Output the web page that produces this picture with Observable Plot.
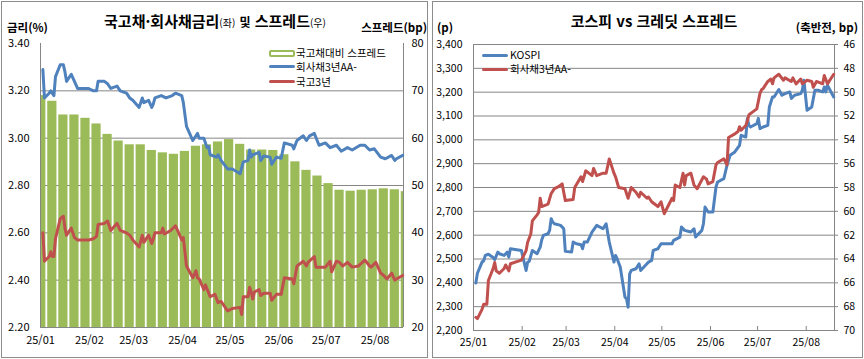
<!DOCTYPE html>
<html lang="ko"><head><meta charset="utf-8">
<script src="https://cdn.jsdelivr.net/npm/d3@7"></script>
<script src="https://cdn.jsdelivr.net/npm/@observablehq/plot@0.6"></script>
<style>
html,body{margin:0;padding:0;background:#fff;}
#page{position:relative;width:864px;height:359px;overflow:hidden;font-family:"Noto Sans CJK KR","Noto Sans",sans-serif;color:#000;}
.box{position:absolute;border:1px solid #8c8c8c;box-sizing:border-box;}
.layer{position:absolute;top:0;}
.layer svg{display:block;}
.t{position:absolute;white-space:nowrap;line-height:1;}
.sw{position:absolute;}
</style></head><body><div id="page">
<div class="box" style="left:1px;top:1px;width:427px;height:357px"></div>
<div class="box" style="left:432px;top:1px;width:431px;height:357px"></div>
<div id="L1" class="layer" style="left:0;width:430px"></div>
<div id="L2" class="layer" style="left:0;width:430px"></div>
<div id="R1" class="layer" style="left:430px;width:434px"></div>
<div id="R2" class="layer" style="left:430px;width:434px"></div>

<div class="t" style="left:215px;top:12.5px;transform:translateX(-50%);font-size:15px;font-weight:bold">국고채·회사채금리<span style="font-size:10px;font-weight:normal">(좌)</span> <span style="font-size:12px">및</span> 스프레드<span style="font-size:10px;font-weight:normal">(우)</span></div>
<div class="t" style="left:7px;top:22px;font-size:11.5px;font-weight:bold">금리(%)</div>
<div class="t" style="right:437px;top:22px;font-size:11.5px;font-weight:bold">스프레드(bp)</div>

<div class="sw" style="left:269px;top:50px;width:26px;height:7px;border:2px solid #9BBB59;box-sizing:border-box;border-radius:2px;background:#fff"></div>
<div class="t" style="left:296px;top:47.5px;font-size:10.5px">국고채대비 스프레드</div>
<div class="sw" style="left:269px;top:65px;width:26px;height:3px;background:#4F81BD;border-radius:1.5px"></div>
<div class="t" style="left:296px;top:62px;font-size:10.5px">회사채3년AA-</div>
<div class="sw" style="left:269px;top:80px;width:26px;height:3px;background:#C0504D;border-radius:1.5px"></div>
<div class="t" style="left:296px;top:77px;font-size:10.5px">국고3년</div>

<div class="t" style="left:654px;top:12.5px;transform:translateX(-50%);font-size:15px;font-weight:bold">코스피 vs 크레딧 스프레드</div>
<div class="t" style="left:437px;top:22px;font-size:11.5px;font-weight:bold">(p)</div>
<div class="t" style="right:6px;top:22px;font-size:11.5px;font-weight:bold">(축반전, bp)</div>

<div class="sw" style="left:482px;top:53.5px;width:26px;height:3px;background:#4F81BD;border-radius:1.5px"></div>
<div class="t" style="left:510px;top:50px;font-size:10.5px">KOSPI</div>
<div class="sw" style="left:482px;top:67.5px;width:26px;height:3px;background:#C0504D;border-radius:1.5px"></div>
<div class="t" style="left:510px;top:64px;font-size:10.5px">회사채3년AA-</div>
</div>
<script>
// ---------- data ----------
const monthLabels = ["25/01","25/02","25/03","25/04","25/05","25/06","25/07","25/08"];
const rateTicks = [2.2,2.4,2.6,2.8,3.0,3.2,3.4];
const spreadTicks = [20,30,40,50,60,70,80];
const kospiTicks = [2200,2300,2400,2500,2600,2700,2800,2900,3000,3100,3200,3300,3400];
const creditTicks = [46,48,50,52,54,56,58,60,62,64,66,68,70];

const corpDates = ["01-02","01-03","01-06","01-07","01-09","01-10","01-13","01-15","01-16","01-17","01-20","01-22","01-24","01-31","02-03","02-05","02-06","02-10","02-12","02-14","02-18","02-20","02-24","02-26","02-28","03-04","03-06","03-07","03-10","03-12","03-13","03-14","03-18","03-21","03-25","03-27","03-31","04-01","04-03","04-07","04-09","04-10","04-11","04-14","04-16","04-17","04-18","04-22","04-23","04-25","04-29","05-02","05-07","05-08","05-09","05-12","05-13","05-14","05-15","05-19","05-20","05-22","05-26","05-27","05-30","06-02","06-04","06-09","06-10","06-12","06-16","06-18","06-20","06-23","06-26","06-30","07-03","07-07","07-10","07-14","07-17","07-22","07-25","07-28","07-31","08-04","08-07","08-11","08-13","08-14","08-18"];
const corpYield = [3.29,3.17,3.19,3.20,3.18,3.26,3.31,3.31,3.28,3.24,3.27,3.24,3.21,3.21,3.20,3.20,3.24,3.24,3.23,3.21,3.22,3.20,3.19,3.17,3.16,3.13,3.17,3.15,3.16,3.13,3.145,3.17,3.18,3.17,3.18,3.19,3.18,3.15,3.05,2.99,3.01,3.02,3.00,3.00,2.96,2.965,2.93,2.92,2.93,2.905,2.87,2.87,2.85,2.875,2.90,2.905,2.95,2.92,2.93,2.94,2.905,2.925,2.92,2.89,2.92,2.915,2.98,2.97,2.955,2.99,3.01,2.99,3.01,3.02,2.97,2.98,2.96,2.97,2.945,2.96,2.95,2.97,2.97,2.95,2.955,2.92,2.913,2.927,2.906,2.913,2.927];

const govtDates = ["01-02","01-03","01-06","01-07","01-08","01-09","01-10","01-13","01-15","01-16","01-17","01-20","01-22","01-24","01-31","02-03","02-05","02-06","02-10","02-12","02-14","02-18","02-20","02-24","02-26","02-28","03-04","03-06","03-07","03-10","03-12","03-13","03-14","03-18","03-19","03-20","03-24","03-27","03-31","04-01","04-03","04-07","04-09","04-10","04-11","04-14","04-15","04-18","04-21","04-23","04-25","04-29","05-02","05-07","05-08","05-09","05-12","05-13","05-14","05-15","05-16","05-19","05-20","05-22","05-26","05-27","05-30","06-02","06-04","06-09","06-10","06-12","06-16","06-18","06-19","06-23","06-24","06-30","07-03","07-04","07-07","07-09","07-11","07-14","07-17","07-21","07-25","07-28","07-29","08-01","08-04","08-06","08-08","08-11","08-13","08-14","08-18"];
const govtYield = [2.60,2.48,2.50,2.52,2.50,2.50,2.575,2.66,2.67,2.62,2.59,2.62,2.58,2.57,2.57,2.575,2.585,2.635,2.64,2.65,2.61,2.64,2.61,2.60,2.59,2.57,2.54,2.59,2.56,2.59,2.555,2.575,2.60,2.60,2.62,2.595,2.61,2.63,2.57,2.58,2.46,2.41,2.44,2.41,2.405,2.36,2.38,2.33,2.34,2.305,2.31,2.27,2.28,2.285,2.255,2.33,2.33,2.37,2.35,2.32,2.35,2.36,2.335,2.345,2.345,2.315,2.34,2.34,2.41,2.405,2.385,2.46,2.48,2.46,2.475,2.50,2.455,2.455,2.48,2.435,2.48,2.475,2.46,2.475,2.455,2.46,2.485,2.46,2.455,2.475,2.43,2.42,2.405,2.43,2.40,2.405,2.42];

const spreadWeeks = ["01-02","01-06","01-13","01-20","01-27","02-03","02-10","02-17","02-24","03-03","03-10","03-17","03-24","03-31","04-07","04-14","04-21","04-28","05-05","05-12","05-19","05-26","06-02","06-09","06-16","06-23","06-30","07-07","07-14","07-21","07-28","08-04","08-11","08-18"];
const spreadWeekly = [69.0,67.8,64.9,64.9,64.2,63.0,60.8,59.4,58.6,58.6,57.4,56.9,56.6,57.2,58.3,58.6,59.2,59.7,58.7,57.5,57.5,57.4,56.5,55.0,53.2,52.0,50.4,49.0,48.8,49.0,49.1,49.3,49.1,48.7];

const kospiDates = ["01-02","01-03","01-06","01-07","01-08","01-10","01-13","01-14","01-16","01-17","01-20","01-22","01-23","01-24","01-31","02-03","02-04","02-05","02-07","02-10","02-11","02-12","02-13","02-14","02-17","02-18","02-19","02-20","02-21","02-25","02-27","02-28","03-04","03-05","03-07","03-10","03-11","03-12","03-14","03-17","03-20","03-24","03-26","03-28","03-31","04-01","04-02","04-04","04-07","04-08","04-09","04-10","04-11","04-14","04-16","04-17","04-21","04-22","04-24","04-25","04-28","04-30","05-07","05-08","05-12","05-13","05-15","05-19","05-21","05-22","05-26","05-27","05-28","05-30","06-02","06-04","06-05","06-09","06-10","06-11","06-13","06-16","06-19","06-20","06-23","06-24","06-25","06-26","06-30","07-01","07-02","07-04","07-07","07-08","07-10","07-11","07-14","07-16","07-18","07-21","07-22","07-24","07-28","07-29","07-30","08-01","08-04","08-06","08-08","08-11","08-12","08-13","08-14","08-18"];
const kospiValues = [2399,2440,2488,2492,2515,2520,2506,2497,2529,2522,2515,2529,2508,2543,2536,2452,2487,2490,2536,2522,2536,2550,2581,2599,2606,2620,2669,2655,2648,2641,2627,2532,2529,2571,2564,2560,2543,2571,2571,2613,2641,2627,2648,2571,2487,2515,2501,2466,2340,2333,2298,2438,2452,2459,2480,2452,2480,2487,2494,2536,2543,2564,2564,2578,2592,2634,2620,2613,2627,2592,2620,2648,2718,2697,2697,2802,2823,2837,2865,2893,2935,2949,2977,3019,3012,3090,3061,3054,3068,3090,3047,3054,3061,3138,3180,3180,3211,3187,3194,3201,3174,3187,3194,3208,3250,3124,3138,3208,3208,3201,3222,3201,3229,3180];

const creditDates = ["01-02","01-03","01-06","01-07","01-09","01-10","01-13","01-14","01-15","01-17","01-20","01-21","01-23","01-24","01-31","02-03","02-04","02-06","02-07","02-10","02-11","02-12","02-13","02-17","02-19","02-20","02-21","02-24","02-26","02-28","03-05","03-06","03-10","03-11","03-13","03-17","03-18","03-20","03-24","03-26","03-28","03-31","04-01","04-03","04-07","04-09","04-11","04-14","04-16","04-17","04-21","04-22","04-24","04-28","04-30","05-02","05-07","05-08","05-09","05-12","05-14","05-15","05-16","05-19","05-21","05-23","05-27","05-29","05-30","06-02","06-04","06-05","06-09","06-11","06-12","06-16","06-18","06-19","06-20","06-23","06-24","06-25","06-27","06-30","07-02","07-03","07-04","07-07","07-09","07-10","07-11","07-14","07-17","07-18","07-22","07-23","07-25","07-28","07-29","08-01","08-04","08-05","08-07","08-11","08-12","08-14","08-18"];
const creditSpread = [68.9,69.0,68.2,67.8,67.8,65.8,64.8,64.3,65.0,65.2,64.8,64.5,65.0,64.4,64.1,63.3,62.6,61.9,60.8,60.3,60.1,58.9,59.6,59.4,58.5,58.3,58.1,57.9,57.7,59.1,59.0,58.0,57.1,57.5,56.6,57.0,56.4,57.0,56.8,56.8,55.6,56.8,57.1,58.0,58.1,58.9,58.0,58.4,58.8,58.4,58.9,58.8,59.2,59.6,59.2,60.2,58.9,59.1,57.8,58.0,56.8,57.8,57.0,56.8,57.8,58.1,57.1,57.3,57.7,57.5,56.1,55.9,55.6,56.1,53.8,53.5,53.3,52.9,53.2,52.8,52.4,51.9,51.7,51.4,50.1,49.8,49.7,49.1,48.9,49.3,48.8,48.5,49.0,48.8,49.1,48.8,49.3,48.9,49.3,49.0,49.1,49.6,49.1,49.3,48.6,49.3,48.5];

// ---------- helpers ----------
const D = (s, h = 0) => new Date(Date.UTC(2025, +s.slice(0, 2) - 1, +s.slice(3, 5), h));
const pts = (ds, vs) => ds.map((s, i) => ({date: D(s, 12), value: vs[i]}));
const monthDates = monthLabels.map(l => new Date(Date.UTC(2000 + +l.slice(0, 2), +l.slice(3, 5) - 1, 1)));
const monthFmt = d => monthLabels[monthDates.findIndex(m => +m === +d)];
const xDom = [new Date(Date.UTC(2025, 0, 1)), new Date(Date.UTC(2025, 7, 19))];
const GRID = "#868686", GREEN = "#9BBB59", BLUE = "#4F81BD", RED = "#C0504D";
const FONT = '"Noto Sans CJK KR","Noto Sans",sans-serif';
const style = (fs, bg) => ({fontFamily: FONT, fontSize: fs, color: "#000", background: bg, overflow: "visible"});

const bars = spreadWeeks.map((w, i) => {
  const s = D(w);
  const e = new Date(s.getTime());
  e.setUTCDate(e.getUTCDate() + (6 - s.getUTCDay()));
  return {x1: s, x2: e > xDom[1] ? xDom[1] : e, v: spreadWeekly[i]};
});

// ---------- left chart ----------
const LM = {width: 430, height: 359, marginLeft: 40, marginRight: 27, marginTop: 43, marginBottom: 32};
const left1 = Plot.plot({
  ...LM, style: style("11px", "transparent"),
  x: {type: "utc", domain: xDom, axis: null},
  y: {type: "linear", domain: [20, 80]},
  marks: [
    Plot.ruleY(spreadTicks.filter(t => t > 20 && t < 80), {stroke: GRID, strokeWidth: 1}),
    Plot.rect(bars, {x1: "x1", x2: "x2", y1: () => 20, y2: "v", fill: GREEN, insetLeft: -0.65, insetRight: -0.65}),
    Plot.axisY({anchor: "right", ticks: spreadTicks, tickSize: 0, tickPadding: 8, label: null, tickFormat: d => String(d)})
  ]
});
document.getElementById("L1").append(left1);

const left2 = Plot.plot({
  ...LM, style: style("11px", "transparent"),
  x: {type: "utc", domain: xDom},
  y: {type: "linear", domain: [2.2, 3.4]},
  marks: [
    Plot.ruleX(xDom, {stroke: GRID}),
    Plot.ruleY([rateTicks[0]], {stroke: GRID}),
    Plot.line(pts(corpDates, corpYield), {x: "date", y: "value", stroke: BLUE, strokeWidth: 3, strokeLinejoin: "round", strokeLinecap: "round"}),
    Plot.line(pts(govtDates, govtYield), {x: "date", y: "value", stroke: RED, strokeWidth: 3, strokeLinejoin: "round", strokeLinecap: "round"}),
    Plot.axisY({anchor: "left", ticks: rateTicks, tickFormat: d3.format(".2f"), tickSize: 0, tickPadding: 11, label: null}),
    Plot.axisX({ticks: monthDates, tickFormat: monthFmt, tickSize: 0, tickPadding: 9, label: null})
  ]
});
document.getElementById("L2").append(left2);

// ---------- right chart ----------
const RM = {width: 434, height: 359, marginLeft: 43, marginRight: 30, marginTop: 44, marginBottom: 29};
const innerRH = RM.height - RM.marginTop - RM.marginBottom;
const right1 = Plot.plot({
  ...RM, style: style("10.5px", "transparent"),
  x: {type: "utc", domain: xDom},
  y: {type: "linear", domain: [2200, 3400]},
  marks: [
    Plot.ruleY(kospiTicks, {stroke: GRID, insetRight: -4}),
    Plot.ruleX(xDom, {stroke: GRID}),
    Plot.tickX(monthDates.slice(1), {x: d => d, stroke: GRID, insetTop: innerRH - 4}),
    Plot.line(pts(kospiDates, kospiValues), {x: "date", y: "value", stroke: BLUE, strokeWidth: 3, strokeLinejoin: "round", strokeLinecap: "round"}),
    Plot.axisY({anchor: "left", ticks: kospiTicks, tickFormat: d3.format(","), tickSize: 0, tickPadding: 11, label: null}),
    Plot.axisX({ticks: monthDates, tickFormat: monthFmt, tickSize: 0, tickPadding: 8, label: null})
  ]
});
document.getElementById("R1").append(right1);

const right2 = Plot.plot({
  ...RM, style: style("10.5px", "transparent"),
  x: {type: "utc", domain: xDom, axis: null},
  y: {type: "linear", domain: [46, 70], reverse: true},
  marks: [
    Plot.line(pts(creditDates, creditSpread), {x: "date", y: "value", stroke: RED, strokeWidth: 3, strokeLinejoin: "round", strokeLinecap: "round"}),
    Plot.axisY({anchor: "right", ticks: creditTicks, tickSize: 0, tickPadding: 9, label: null})
  ]
});
document.getElementById("R2").append(right2);
</script>
</body></html>
